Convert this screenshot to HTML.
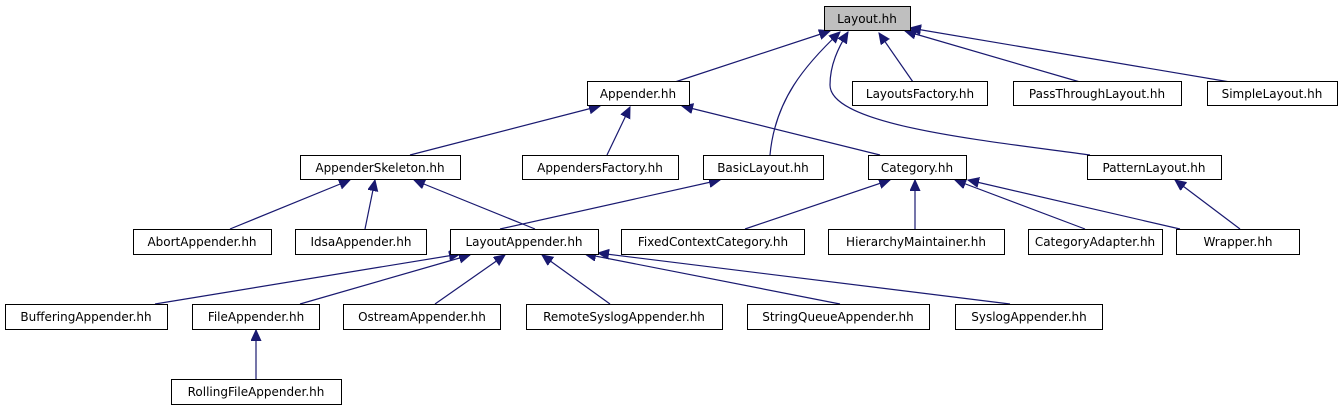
<!DOCTYPE html>
<html><head><meta charset="utf-8"><style>
html,body{margin:0;padding:0;background:#fff;}
svg text{font-family:"DejaVu Sans","Liberation Sans",sans-serif;font-size:12px;fill:#000;}
</style></head><body>
<svg width="1343" height="411" viewBox="0 0 1343 411" xmlns="http://www.w3.org/2000/svg">
<defs>
<marker id="a" markerUnits="userSpaceOnUse" markerWidth="12" markerHeight="12" refX="11" refY="5" orient="auto">
<path d="M0,0 L11,5 L0,10 Z" fill="#191970" stroke="#191970"/>
</marker>
</defs>
<g fill="none" stroke="#191970" stroke-width="1.2" marker-end="url(#a)">
<path d="M675,82 L830,31"/>
<path d="M770,155 C775,100 805,65 840,32"/>
<path d="M1090,155 C980,140 830,125 830,85 C830,65 838,48 848,32"/>
<path d="M913,82 L879,33"/>
<path d="M1080,82 L905,31"/>
<path d="M1230,82 L910,28"/>
<path d="M410,155 L600,106"/>
<path d="M607,155 L630,107"/>
<path d="M880,155 L682,106"/>
<path d="M230,229 L350,180"/>
<path d="M365,229 L375,180"/>
<path d="M535,229 L414,180"/>
<path d="M500,229 L720,180"/>
<path d="M745,229 L890,180"/>
<path d="M915,229 L915,180"/>
<path d="M1085,229 L955,180"/>
<path d="M1180,229 L968,180"/>
<path d="M1240,229 L1175,180"/>
<path d="M155,304 L460,254"/>
<path d="M300,304 L470,255"/>
<path d="M435,304 L505,255"/>
<path d="M610,304 L542,255"/>
<path d="M840,304 L585,254"/>
<path d="M1010,304 L598,253"/>
<path d="M256,379 L256,330"/>
</g>
<g stroke="#000" stroke-width="1" fill="#fff">
<rect x="824.5" y="6.5" width="86" height="24" fill="#bfbfbf"/>
<rect x="587.5" y="81.5" width="102" height="24"/>
<rect x="852.5" y="81.5" width="135" height="24"/>
<rect x="1013.5" y="81.5" width="168" height="24"/>
<rect x="1207.5" y="81.5" width="130" height="24"/>
<rect x="300.5" y="155.5" width="160" height="24"/>
<rect x="522.5" y="155.5" width="156" height="24"/>
<rect x="703.5" y="155.5" width="120" height="24"/>
<rect x="868.5" y="155.5" width="98" height="24"/>
<rect x="1087.5" y="155.5" width="134" height="24"/>
<rect x="133.5" y="229.5" width="138" height="25"/>
<rect x="295.5" y="229.5" width="131" height="25"/>
<rect x="450.5" y="229.5" width="148" height="25"/>
<rect x="621.5" y="229.5" width="183" height="25"/>
<rect x="828.5" y="229.5" width="176" height="25"/>
<rect x="1028.5" y="229.5" width="134" height="25"/>
<rect x="1176.5" y="229.5" width="123" height="25"/>
<rect x="5.5" y="304.5" width="162" height="25"/>
<rect x="192.5" y="304.5" width="127" height="25"/>
<rect x="343.5" y="304.5" width="157" height="25"/>
<rect x="526.5" y="304.5" width="196" height="25"/>
<rect x="747.5" y="304.5" width="182" height="25"/>
<rect x="955.5" y="304.5" width="147" height="25"/>
<rect x="171.5" y="379.5" width="170" height="25"/>
</g>
<g text-anchor="middle">
<text x="867" y="23">Layout.hh</text>
<text x="638" y="98">Appender.hh</text>
<text x="920" y="98">LayoutsFactory.hh</text>
<text x="1097" y="98">PassThroughLayout.hh</text>
<text x="1272" y="98">SimpleLayout.hh</text>
<text x="380" y="172">AppenderSkeleton.hh</text>
<text x="600" y="172">AppendersFactory.hh</text>
<text x="763" y="172">BasicLayout.hh</text>
<text x="917" y="172">Category.hh</text>
<text x="1154" y="172">PatternLayout.hh</text>
<text x="202" y="246">AbortAppender.hh</text>
<text x="361" y="246">IdsaAppender.hh</text>
<text x="524" y="246">LayoutAppender.hh</text>
<text x="713" y="246">FixedContextCategory.hh</text>
<text x="916" y="246">HierarchyMaintainer.hh</text>
<text x="1095" y="246">CategoryAdapter.hh</text>
<text x="1238" y="246">Wrapper.hh</text>
<text x="86" y="321">BufferingAppender.hh</text>
<text x="256" y="321">FileAppender.hh</text>
<text x="422" y="321">OstreamAppender.hh</text>
<text x="624" y="321">RemoteSyslogAppender.hh</text>
<text x="838" y="321">StringQueueAppender.hh</text>
<text x="1029" y="321">SyslogAppender.hh</text>
<text x="256" y="396">RollingFileAppender.hh</text>
</g>
</svg>
</body></html>
